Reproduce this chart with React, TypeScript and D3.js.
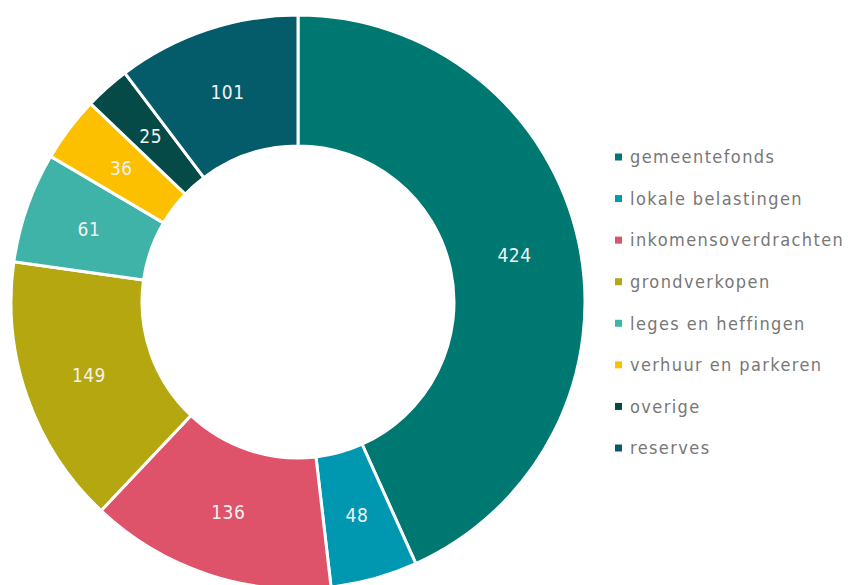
import React from 'react';
import * as d3 from 'd3';

const categories = [
  'gemeentefonds',
  'lokale belastingen',
  'inkomensoverdrachten',
  'grondverkopen',
  'leges en heffingen',
  'verhuur en parkeren',
  'overige',
  'reserves',
];
const values = [424, 48, 136, 149, 61, 36, 25, 101];
const colors = ['#007872', '#0097B1', '#DE526A', '#B4A70F', '#3FB3A8', '#FDC000', '#054A47', '#045B6A'];

const width = 850;
const height = 585;
const cx = 298;
const cy = 302;
const outerR = 287;
const innerR = 156;

export default function App() {
  const pie = d3.pie<number>().sort(null).value((d) => d);
  const arcs = pie(values);
  const arc = d3.arc<d3.PieArcDatum<number>>().innerRadius(innerR).outerRadius(outerR);

  const legendY = d3.scalePoint<string>().domain(categories).range([157, 448]);

  return (
    <svg width={width} height={height} style={{ position: 'absolute', left: 0, top: 0 }}>
      <g transform={`translate(${cx}, ${cy})`}>
        {arcs.map((a, i) => (
          <path key={i} d={arc(a) || ''} fill={colors[i]} stroke="#fff" strokeWidth={3} />
        ))}
        {arcs.map((a, i) => {
          const [x, y] = arc.centroid(a);
          return (
            <text
              key={'l' + i}
              x={x}
              y={y}
              dy="0.36em"
              textAnchor="middle"
              fill="#f2f2f2"
              fontFamily="'DejaVu Sans Condensed', Roboto, sans-serif"
              fontSize={19}
              letterSpacing={0.5}
            >
              {values[i]}
            </text>
          );
        })}
      </g>
      <g>
        {categories.map((c, i) => (
          <g key={c} transform={`translate(615, ${legendY(c)})`}>
            <rect x={0} y={-3.5} width={7} height={7} fill={colors[i]} />
            <text
              x={15}
              y={0}
              dy="0.35em"
              fill="#777"
              fontFamily="'DejaVu Sans Condensed', Roboto, sans-serif"
              fontSize={18}
              letterSpacing={1.4}
            >
              {c}
            </text>
          </g>
        ))}
      </g>
    </svg>
  );
}
